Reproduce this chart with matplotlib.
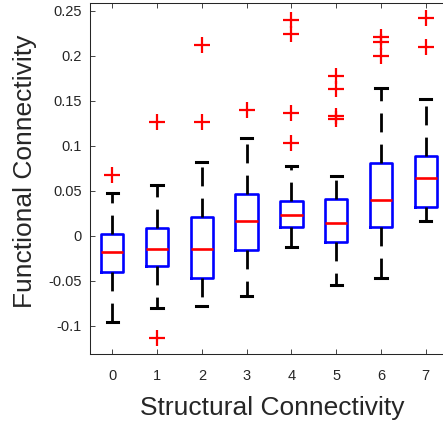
import matplotlib
matplotlib.use("Agg")
import matplotlib.pyplot as plt

plt.rcParams['font.family'] = ['Liberation Sans', 'DejaVu Sans']

categories = [0, 1, 2, 3, 4, 5, 6, 7]
medians = [-0.0178, -0.0151, -0.0151, 0.0167, 0.0233, 0.0141, 0.0397, 0.0641]
q1 = [-0.0403, -0.0333, -0.0467, -0.0162, 0.0093, -0.0073, 0.0093, 0.0323]
q3 = [0.0019, 0.0082, 0.0204, 0.0460, 0.0386, 0.0404, 0.0808, 0.0886]
whisker_low = [-0.0959, -0.0807, -0.0781, -0.0673, -0.0129, -0.0551, -0.0474, 0.0161]
whisker_high = [0.0478, 0.0567, 0.0816, 0.1089, 0.0778, 0.0663, 0.1637, 0.1519]
outliers = [
    [0.0674],
    [-0.114, 0.1259],
    [0.2116, 0.1259],
    [0.1397],
    [0.2397, 0.2238, 0.1361, 0.1028],
    [0.1778, 0.1627, 0.1330, 0.1300],
    [0.2212, 0.2157, 0.2001],
    [0.2416, 0.2101],
]
xlabel = "Structural Connectivity"
ylabel = "Functional Connectivity"

stats = []
for i, c in enumerate(categories):
    stats.append(dict(med=medians[i], q1=q1[i], q3=q3[i],
                      whislo=whisker_low[i], whishi=whisker_high[i],
                      fliers=outliers[i], label=str(c)))

fig = plt.figure(figsize=(4.43, 4.25), dpi=100)
ax = fig.add_axes([0.2029, 0.1664, 0.8086, 0.8273])

ax.bxp(stats, positions=categories, widths=0.5, capwidths=0.25,
       boxprops=dict(color=(0, 0, 1), linewidth=1.9),
       medianprops=dict(color=(1, 0, 0), linewidth=1.9),
       whiskerprops=dict(color='black', linewidth=2.0,
                         linestyle=(0, (6.8, 4.4)), dash_capstyle='butt'),
       capprops=dict(color='black', linewidth=2.2),
       flierprops=dict(marker='+', markeredgecolor=(1, 0, 0),
                       markersize=11.5, markeredgewidth=1.6, linestyle='none'))

ax.set_xlim(-0.5, 7.5)
ax.set_ylim(-0.1318, 0.2589)
ax.set_yticks([-0.1, -0.05, 0, 0.05, 0.1, 0.15, 0.2, 0.25])
ax.set_yticklabels(['-0.1', '-0.05', '0', '0.05', '0.1', '0.15', '0.2', '0.25'])
ax.set_xticks(categories)
ax.set_xticklabels([str(c) for c in categories])

dark = '#262626'
for s in ax.spines.values():
    s.set_color(dark)
    s.set_linewidth(0.75)
ax.tick_params(axis='both', direction='in', length=3.5, width=0.6,
               colors=dark, labelsize=10.5, top=True, right=True)
ax.tick_params(axis='x', pad=10.5)
ax.tick_params(axis='y', pad=6)

ax.set_xlabel(xlabel, fontsize=19, color=dark)
ax.set_ylabel(ylabel, fontsize=19, color=dark)
ax.xaxis.set_label_coords(0.5078, -0.1186)
ax.yaxis.set_label_coords(-0.1468, 0.5213)

fig.savefig("out.png", dpi=100)
